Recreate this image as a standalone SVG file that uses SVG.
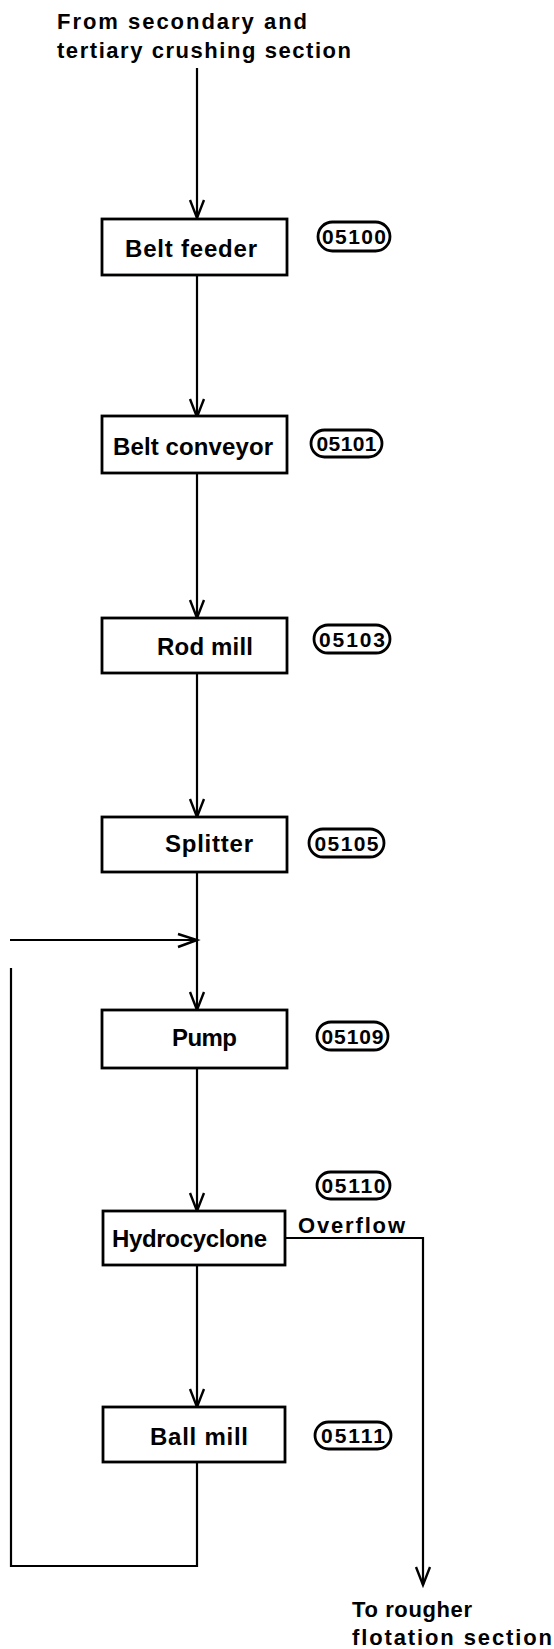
<svg xmlns="http://www.w3.org/2000/svg" width="554" height="1649" viewBox="0 0 554 1649">
<style>
.box{fill:#fff;stroke:#000;stroke-width:2.8}
.pill{fill:#fff;stroke:#000;stroke-width:2.8}
.ln{fill:none;stroke:#000;stroke-width:2.2;stroke-linejoin:miter}
.ah{fill:none;stroke:#000;stroke-width:2.4}
.t{font-family:"Liberation Sans",Arial,sans-serif;font-weight:bold;font-size:24px;fill:#000}
.tt{font-family:"Liberation Sans",Arial,sans-serif;font-weight:bold;font-size:22px;fill:#000}
.p{font-family:"Liberation Sans",Arial,sans-serif;font-weight:bold;font-size:21px;fill:#000;text-anchor:middle}
</style>
<rect width="554" height="1649" fill="#fff"/>
<g id="connectors">
<path class="ln" d="M197,68 V218"/>
<path class="ah" d="M190,200 L197,218 L204,200"/>
<path class="ln" d="M197,275 V417"/>
<path class="ah" d="M190,399 L197,417 L204,399"/>
<path class="ln" d="M197,473 V618"/>
<path class="ah" d="M190,600 L197,618 L204,600"/>
<path class="ln" d="M197,673 V817"/>
<path class="ah" d="M190,799 L197,817 L204,799"/>
<path class="ln" d="M197,872 V1010"/>
<path class="ah" d="M190,992 L197,1010 L204,992"/>
<path class="ln" d="M10,940 H197"/>
<path class="ah" d="M178,934 L197,940 L178,947"/>
<path class="ln" d="M197,1068 V1211"/>
<path class="ah" d="M190,1193 L197,1211 L204,1193"/>
<path class="ln" d="M197,1265 V1407"/>
<path class="ah" d="M190,1389 L197,1407 L204,1389"/>
<path class="ln" d="M197,1462 V1566 H11 V968"/>
<path class="ln" d="M285,1238 H423 V1585"/>
<path class="ah" d="M416,1567 L423,1585 L430,1567"/>
</g>
<g id="title-in">
<text class="tt" x="57" y="29" textLength="250" lengthAdjust="spacing">From secondary and</text>
<text class="tt" x="57" y="58" textLength="294" lengthAdjust="spacing">tertiary crushing section</text>
</g>
<g id="belt-feeder">
<rect class="box" x="102" y="219" width="185" height="56"/>
<text class="t" x="125" y="257" textLength="132" lengthAdjust="spacing">Belt feeder</text>
<rect class="pill" x="318" y="222" width="72" height="29" rx="14.5"/>
<text class="p" x="354" y="244" textLength="64" lengthAdjust="spacing">05100</text>
</g>
<g id="belt-conveyor">
<rect class="box" x="102" y="416" width="185" height="57"/>
<text class="t" x="113" y="455" textLength="160" lengthAdjust="spacing">Belt conveyor</text>
<rect class="pill" x="311" y="430" width="71" height="27" rx="13.5"/>
<text class="p" x="346.5" y="451" textLength="60" lengthAdjust="spacing">05101</text>
</g>
<g id="rod-mill">
<rect class="box" x="102" y="618" width="185" height="55"/>
<text class="t" x="157" y="655" textLength="96" lengthAdjust="spacing">Rod mill</text>
<rect class="pill" x="314" y="625" width="76" height="28" rx="14"/>
<text class="p" x="352" y="647" textLength="66" lengthAdjust="spacing">05103</text>
</g>
<g id="splitter">
<rect class="box" x="102" y="817" width="185" height="55"/>
<text class="t" x="165" y="852" textLength="88" lengthAdjust="spacing">Splitter</text>
<rect class="pill" x="309" y="829" width="75" height="28" rx="14"/>
<text class="p" x="346.5" y="851" textLength="64" lengthAdjust="spacing">05105</text>
</g>
<g id="pump">
<rect class="box" x="102" y="1010" width="185" height="58"/>
<text class="t" x="172" y="1046" textLength="65" lengthAdjust="spacing">Pump</text>
<rect class="pill" x="317" y="1022" width="71" height="28" rx="14"/>
<text class="p" x="352.5" y="1044" textLength="62" lengthAdjust="spacing">05109</text>
</g>
<g id="hydrocyclone">
<rect class="box" x="103" y="1211" width="182" height="54"/>
<text class="t" x="112" y="1247" textLength="155" lengthAdjust="spacing">Hydrocyclone</text>
<rect class="pill" x="317" y="1172" width="73" height="27" rx="13.5"/>
<text class="p" x="353.5" y="1193" textLength="64" lengthAdjust="spacing">05110</text>
<text class="tt" x="298" y="1233" textLength="107" lengthAdjust="spacing">Overflow</text>
</g>
<g id="ball-mill">
<rect class="box" x="103" y="1407" width="182" height="55"/>
<text class="t" x="150" y="1445" textLength="98" lengthAdjust="spacing">Ball mill</text>
<rect class="pill" x="315" y="1422" width="76" height="27" rx="13.5"/>
<text class="p" x="353" y="1443" textLength="64" lengthAdjust="spacing">05111</text>
</g>
<g id="to-rougher">
<text class="tt" x="352" y="1617" textLength="120" lengthAdjust="spacing">To rougher</text>
<text class="tt" x="352" y="1645" textLength="200" lengthAdjust="spacing">flotation section</text>
</g>
</svg>
